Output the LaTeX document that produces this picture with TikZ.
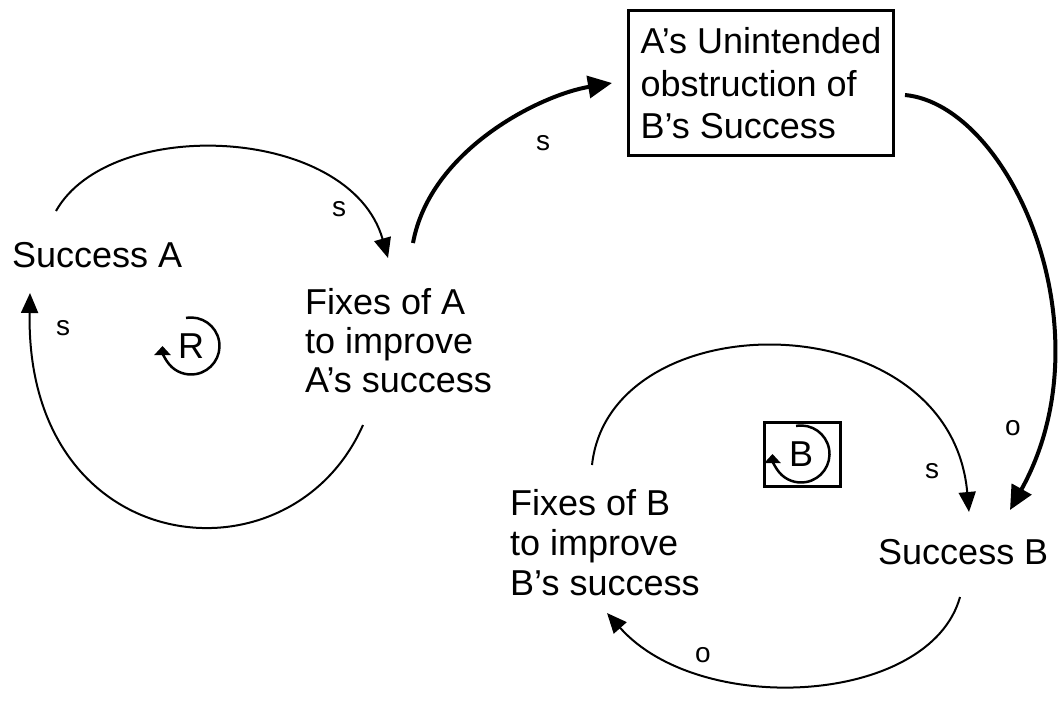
\documentclass[tikz,border=0pt]{standalone}
\usepackage{fontspec}
\setmainfont{Liberation Sans}
\usetikzlibrary{arrows.meta}
\begin{document}
\begin{tikzpicture}[x=1pt,y=-1pt,
  lbl/.style={font=\fontsize{36}{39}\selectfont, inner sep=0pt, anchor=base west, align=left},
  pol/.style={font=\fontsize{28}{30}\selectfont, inner sep=0pt},
  thinlink/.style={line width=2pt, -{Triangle[length=20pt,width=17pt]}},
  thicklink/.style={line width=4pt, -{Triangle[length=24pt,width=22pt]}},
  loopmark/.style={line width=2.5pt, -{Triangle[length=9pt,width=16pt]}},
]
\useasboundingbox (0,0) rectangle (1059,702);

% variables (multi-line labels sit on the baseline of their last line)
\node[lbl] (sa) at (12,267) {Success A};
\node[lbl] (fa) at (305,392) {Fixes of A\\to improve\\A’s success};
\node[draw, line width=3pt, font=\fontsize{36}{42.5}\selectfont, align=left,
      inner xsep=12pt, inner ysep=17pt, anchor=north west] (ob) at (627,9)
      {A’s Unintended\\obstruction of\\B’s Success};
\node[lbl, font=\fontsize{36}{40}\selectfont] (fb) at (510,595) {Fixes of B\\to improve\\B’s success};
\node[lbl] (sb) at (878,564) {Success B};

% loop markers
\node[font=\fontsize{36}{40}\selectfont, inner sep=0pt] (rl) at (191,346) {R};
\draw[loopmark] (rl.center) ++(-100:28.5) arc[start angle=-100, end angle=180, radius=28.5];
\node[font=\fontsize{36}{40}\selectfont, inner sep=0pt] (bl) at (801,454) {B};
\draw[loopmark] (bl.center) ++(-100:28.5) arc[start angle=-100, end angle=180, radius=28.5];
\node[draw, line width=3pt, minimum width=76pt, minimum height=64pt, inner sep=0pt] (blbox) at (802,454) {};

% link end points
\coordinate (p1) at (56,211);   \coordinate (q1) at (388,258);
\coordinate (p2) at (363,425);  \coordinate (q2) at (30,293);
\coordinate (p3) at (413,243);  \coordinate (q3) at (612,83);
\coordinate (p4) at (905,95);   \coordinate (q4) at (1010,510);
\coordinate (p5) at (592,465);  \coordinate (q5) at (969,512);
\coordinate (p6) at (960,597);  \coordinate (q6) at (607,613);

% links
\draw[thinlink] (p1) .. controls (110,115) and (350,125) .. (q1);
\draw[thinlink] (p2) .. controls (290,590) and (25,560) .. (q2);
\draw[thicklink] (p3) .. controls (430,150) and (540,95) .. (q3);
\draw[thicklink] (p4) .. controls (1010,105) and (1110,330) .. (q4);
\draw[thinlink] (p5) .. controls (610,300) and (950,300) .. (q5);
\draw[thinlink] (p6) .. controls (930,705) and (700,718) .. (q6);

% polarities
\node[pol] (s1) at (339,209) {s};
\node[pol] (s2) at (63,328) {s};
\node[pol] (s3) at (543,143) {s};
\node[pol] (o4) at (1013,428) {o};
\node[pol] (s5) at (932,471) {s};
\node[pol] (o6) at (703,655) {o};
\end{tikzpicture}
\end{document}
